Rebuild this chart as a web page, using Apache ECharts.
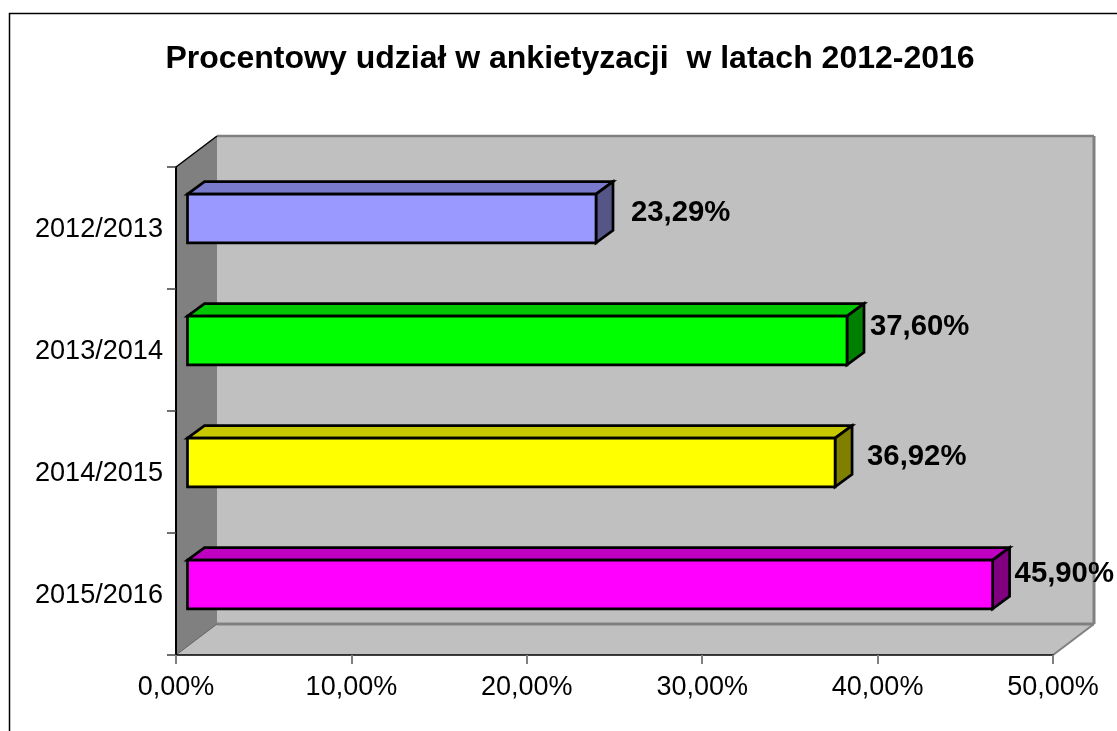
<!DOCTYPE html>
<html><head><meta charset="utf-8">
<style>html,body{margin:0;padding:0;background:#fff}#c{width:1117px;height:731px}</style>
<script src="https://cdn.jsdelivr.net/npm/echarts@6/dist/echarts.min.js"></script>
</head><body><div id="c"></div>
<script>
const titleText = 'Procentowy udział w ankietyzacji  w latach 2012-2016';
const categories = ['2012/2013', '2013/2014', '2014/2015', '2015/2016'];
const shares = [23.29, 37.60, 36.92, 45.90];
const xTicks = {min: 0, max: 50, interval: 10};
const frontColors = ['#9999ff', '#00ff00', '#ffff00', '#ff00ff'];
const topColors = ['#7a7acc', '#00c800', '#c8c800', '#c000c0'];
const sideColors = ['#555588', '#008000', '#808000', '#800080'];
const labelShift = [[35, -5.5], [23, -13.5], [32, -5.5], [22, -10.5]];
const FONT = '"Liberation Sans", Arial, sans-serif';
const WALL_DX = 41, WALL_DY = 31, BAR_DX = 17, BAR_DY = 12.5, BAR_INSET_X = 11.5, BAR_INSET_Y = 9.5;
const fmt = v => v.toFixed(2).replace('.', ',') + '%';
const poly = (points, fill, stroke, lineWidth) => ({
  type: 'polygon', shape: {points},
  style: {fill, stroke: stroke || 'none', lineWidth: lineWidth || 0, lineJoin: 'miter'}
});
const line = (a, b, stroke, lineWidth) => ({
  type: 'line', shape: {x1: a[0], y1: a[1], x2: b[0], y2: b[1]}, style: {stroke, lineWidth}
});
function renderWalls(params) {
  const c = params.coordSys;
  const L = c.x, R = c.x + c.width, T = c.y, B = c.y + c.height;
  const bL = L + WALL_DX, bR = R + WALL_DX, bT = T - WALL_DY, bB = B - WALL_DY;
  return {type: 'group', children: [
    poly([[bL, bT], [bR, bT], [bR, bB], [bL, bB]], '#c0c0c0'),
    poly([[L, B], [R, B], [bR, bB], [bL, bB]], '#c0c0c0'),
    poly([[L, T], [bL, bT], [bL, bB], [L, B]], '#808080'),
    line([bL, bT], [bR, bT], '#808080', 2.5),
    line([bR, bT], [bR, bB], '#808080', 3),
    line([bL, bB], [bR, bB], '#808080', 3),
    line([L, T], [bL, bT], '#000', 1.5),
    line([L, B], [bL, bB], '#606060', 1),
    line([R, B], [bR, bB], '#808080', 2)
  ]};
}
function renderBar(params, api) {
  const i = params.dataIndex;
  const base = api.coord([0, i]), end = api.coord([api.value(0), i]);
  const h = api.size([0, 1])[1] * 0.4;
  const x0 = base[0] + BAR_INSET_X, x1 = end[0] + BAR_INSET_X;
  const yc = base[1] - BAR_INSET_Y, y0 = yc - h / 2, y1 = yc + h / 2;
  const s = {stroke: '#000', w: 2.7};
  const shift = labelShift[i];
  return {type: 'group', children: [
    poly([[x0, y0], [x0 + BAR_DX, y0 - BAR_DY], [x1 + BAR_DX, y0 - BAR_DY], [x1, y0]], topColors[i], s.stroke, s.w),
    poly([[x1, y0], [x1 + BAR_DX, y0 - BAR_DY], [x1 + BAR_DX, y1 - BAR_DY], [x1, y1]], sideColors[i], s.stroke, s.w),
    poly([[x0, y0], [x1, y0], [x1, y1], [x0, y1]], frontColors[i], s.stroke, s.w),
    {type: 'text', x: x1 + shift[0], y: yc + shift[1], style: {
      text: fmt(api.value(0)), fill: '#000', font: 'bold 29.3px ' + FONT, textAlign: 'left', textVerticalAlign: 'middle'
    }}
  ]};
}
const chart = echarts.init(document.getElementById('c'), null, {renderer: 'canvas'});
chart.setOption({
  animation: false,
  backgroundColor: '#fff',
  title: {text: titleText, left: 565, top: 38, textAlign: 'center',
    textStyle: {fontFamily: FONT, fontWeight: 'bold', fontSize: 32, color: '#000'}},
  graphic: [{type: 'polyline', silent: true, shape: {points: [[9.5, 800], [9.5, 13.5], [1200, 13.5]]},
    style: {stroke: '#000', lineWidth: 1.5, fill: 'none'}}],
  grid: {left: 176, top: 167, width: 877, height: 488, containLabel: false},
  xAxis: {type: 'value', min: xTicks.min, max: xTicks.max, interval: xTicks.interval, z: 5,
    splitLine: {show: false},
    axisLine: {show: true, lineStyle: {color: '#000', width: 1.5}},
    axisTick: {show: true, length: 9, lineStyle: {color: '#808080', width: 2}},
    axisLabel: {formatter: fmt, margin: 19, fontFamily: FONT, fontSize: 27, color: '#000', hideOverlap: false, showMinLabel: true, showMaxLabel: true}},
  yAxis: {type: 'category', data: categories, inverse: true, z: 5,
    axisLine: {show: true, onZero: false, lineStyle: {color: '#000', width: 2}},
    axisTick: {show: true, alignWithLabel: false, length: 9, lineStyle: {color: '#404040', width: 1.5}},
    axisLabel: {margin: 13, formatter: '{a|{value}}', fontFamily: FONT, fontSize: 27.1, color: '#000',
      rich: {a: {fontFamily: FONT, fontSize: 27.1, color: '#000', padding: [4, 0, 0, 0]}}}},
  series: [
    {type: 'custom', name: 'walls', z: 1, silent: true, renderItem: renderWalls, data: [[0, 0]], encode: {x: 0, y: 1}, clip: false},
    {type: 'custom', name: 'Udział', z: 3, renderItem: renderBar, clip: false,
      data: shares.map((v, i) => [v, i]), encode: {x: 0, y: 1}}
  ]
});
</script></body></html>
